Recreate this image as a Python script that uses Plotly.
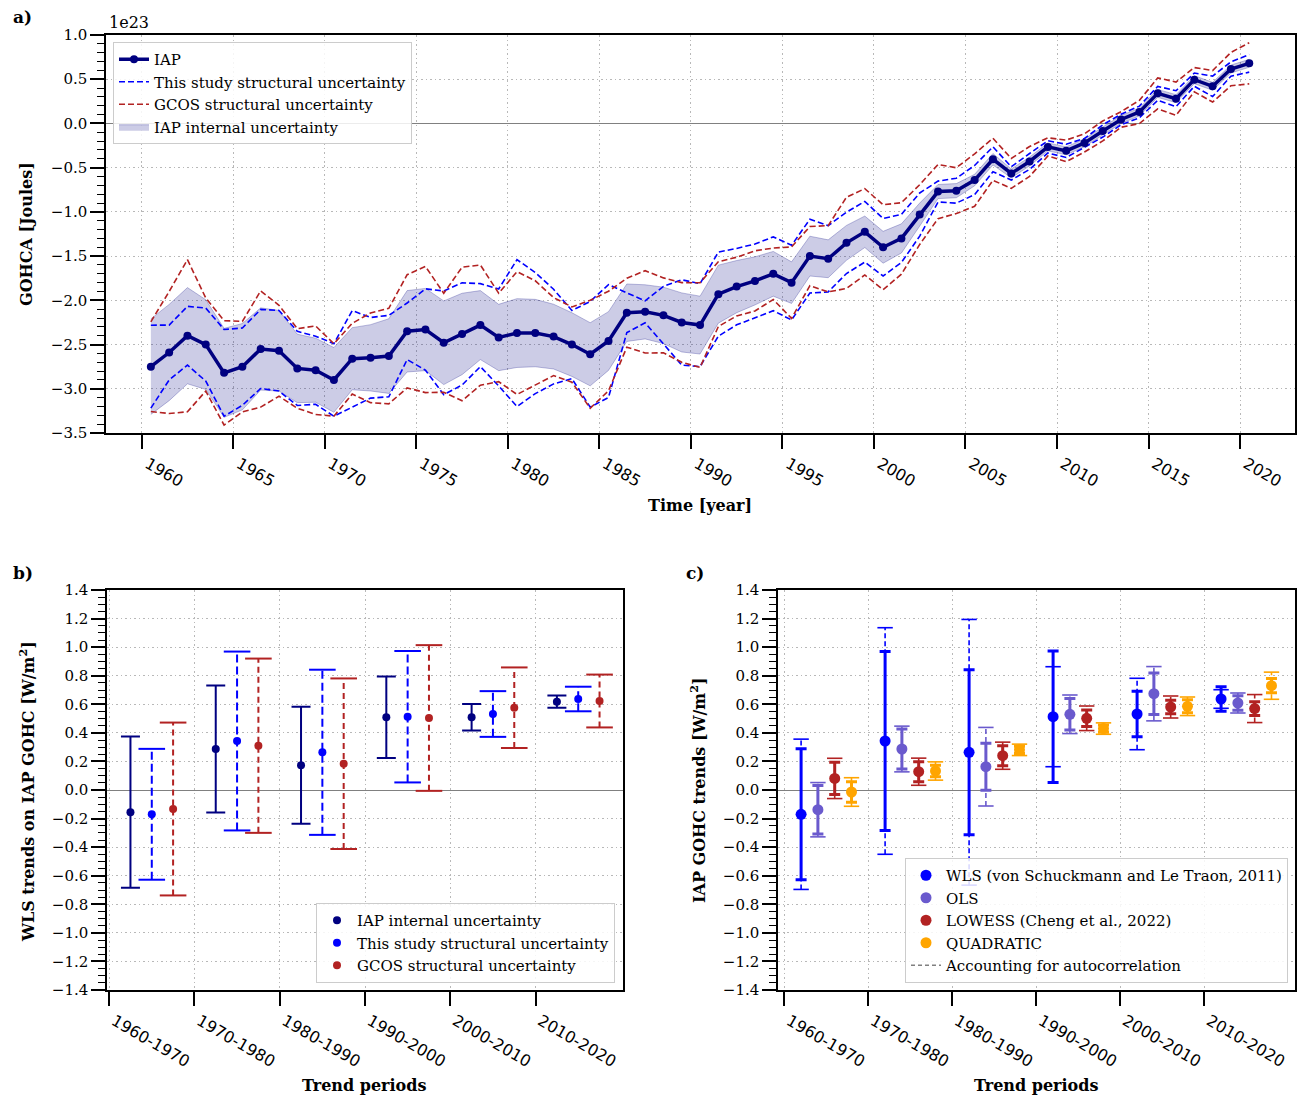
import plotly.graph_objects as go

W, H = 1304, 1096

# ---------------- data: panel a (GOHCA, units of 1e23 J) ----------------
years = [y + 0.5 for y in range(1960, 2021)]
iap = [-2.75, -2.59, -2.40, -2.50, -2.82, -2.75, -2.55, -2.57, -2.77, -2.79,
       -2.90, -2.66, -2.65, -2.63, -2.35, -2.33, -2.48, -2.38, -2.28, -2.42,
       -2.37, -2.37, -2.41, -2.50, -2.61, -2.46, -2.14, -2.13, -2.17, -2.25,
       -2.28, -1.93, -1.845, -1.78, -1.70, -1.80, -1.50, -1.53, -1.35, -1.225,
       -1.40, -1.30, -1.03, -0.77, -0.76, -0.64, -0.405, -0.565, -0.43, -0.265,
       -0.31, -0.22, -0.085, 0.045, 0.13, 0.34, 0.28, 0.495, 0.42, 0.615,
       0.68]
iap_internal_unc = [0.54, 0.544, 0.544, 0.507, 0.503, 0.488, 0.465, 0.456, 0.387, 0.362,
                    0.366, 0.351, 0.375, 0.422, 0.46, 0.465, 0.473, 0.46, 0.39, 0.375,
                    0.389, 0.381, 0.366, 0.36, 0.357, 0.332, 0.325, 0.306, 0.319, 0.334,
                    0.327, 0.328, 0.295, 0.272, 0.253, 0.235, 0.225, 0.214, 0.197, 0.178,
                    0.18, 0.165, 0.13, 0.08, 0.08, 0.065, 0.065, 0.05, 0.05, 0.045,
                    0.045, 0.045, 0.045, 0.045, 0.045, 0.045, 0.045, 0.045, 0.045, 0.045,
                    0.045]
study_struct_unc = [0.469, 0.31, 0.332, 0.413, 0.49, 0.437, 0.447, 0.456, 0.419, 0.385,
                    0.41, 0.544, 0.456, 0.46, 0.32, 0.46, 0.586, 0.578, 0.469, 0.548,
                    0.83, 0.685, 0.535, 0.385, 0.597, 0.638, 0.225, 0.124, 0.328, 0.482,
                    0.469, 0.475, 0.432, 0.417, 0.417, 0.422, 0.417, 0.375, 0.347, 0.343,
                    0.325, 0.272, 0.244, 0.118, 0.141, 0.165, 0.141, 0.075, 0.09, 0.069,
                    0.075, 0.05, 0.069, 0.06, 0.066, 0.079, 0.09, 0.075, 0.116, 0.081,
                    0.1]
gcos_struct_unc = [0.507, 0.69, 0.86, 0.526, 0.59, 0.512, 0.657, 0.514, 0.45, 0.50,
                   0.41, 0.40, 0.507, 0.54, 0.64, 0.713, 0.56, 0.755, 0.68, 0.50,
                   0.694, 0.591, 0.441, 0.426, 0.61, 0.563, 0.389, 0.465, 0.424, 0.45,
                   0.479, 0.366, 0.332, 0.34, 0.291, 0.404, 0.334, 0.375, 0.516, 0.488,
                   0.48, 0.404, 0.338, 0.306, 0.259, 0.297, 0.238, 0.169, 0.169, 0.103,
                   0.122, 0.103, 0.113, 0.088, 0.131, 0.175, 0.188, 0.137, 0.178, 0.188,
                   0.233]
year_ticks = [1960, 1965, 1970, 1975, 1980, 1985, 1990, 1995, 2000, 2005, 2010, 2015, 2020]
gohca_ticks = [-3.5, -3.0, -2.5, -2.0, -1.5, -1.0, -0.5, 0.0, 0.5, 1.0]

# ---------------- data: panel b (WLS trends, W/m2) ----------------
periods = ["1960-1970", "1970-1980", "1980-1990", "1990-2000", "2000-2010", "2010-2020"]
b_iap_trend = [-0.155, 0.287, 0.173, 0.509, 0.509, 0.618]
b_iap_err = [0.53, 0.445, 0.41, 0.285, 0.093, 0.043]
b_study_trend = [-0.17, 0.343, 0.264, 0.513, 0.532, 0.637]
b_study_err = [0.458, 0.626, 0.578, 0.46, 0.16, 0.086]
b_gcos_trend = [-0.133, 0.31, 0.184, 0.504, 0.576, 0.623]
b_gcos_err = [0.605, 0.61, 0.597, 0.51, 0.282, 0.185]

# ---------------- data: panel c (trend methods, W/m2) ----------------
wls_trend = [-0.17, 0.343, 0.264, 0.513, 0.532, 0.637]
wls_err = [0.458, 0.626, 0.578, 0.46, 0.16, 0.086]
wls_err_ac = [0.526, 0.793, 0.93, 0.35, 0.25, 0.065]
ols_trend = [-0.138, 0.287, 0.163, 0.53, 0.674, 0.609]
ols_err = [0.17, 0.14, 0.165, 0.11, 0.145, 0.05]
ols_err_ac = [0.19, 0.16, 0.275, 0.135, 0.19, 0.07]
lowess_trend = [0.081, 0.128, 0.24, 0.502, 0.581, 0.57]
lowess_err = [0.113, 0.07, 0.07, 0.058, 0.047, 0.048]
lowess_err_ac = [0.141, 0.095, 0.095, 0.086, 0.077, 0.098]
quad_trend = [-0.014, 0.133, 0.281, 0.43, 0.586, 0.73]
quad_err = [0.072, 0.04, 0.025, 0.025, 0.045, 0.05]
quad_err_ac = [0.1, 0.064, 0.04, 0.04, 0.065, 0.095]
trend_ticks = [round(k * 0.2, 1) for k in range(-7, 8)]

# ---------------- styles ----------------
SERIF = "DejaVu Serif"
SANS = "DejaVu Sans"
NAVY = "#000080"
BLUE = "#0000ff"
RED = "#b22222"
SLATE = "#6a5acd"
ORANGE = "#ffa500"


def fmt(v):
    s = "{:.1f}".format(v)
    if s == "-0.0":
        s = "0.0"
    return s.replace("-", "\u2212")


fig = go.Figure()

# ---------------- panel a ----------------
lo = [v - e for v, e in zip(iap, iap_internal_unc)]
hi = [v + e for v, e in zip(iap, iap_internal_unc)]
fig.add_trace(go.Scatter(x=years, y=lo, mode="lines", line=dict(color="rgba(0,0,128,0.25)", width=1),
                         showlegend=False, hoverinfo="skip", xaxis="x", yaxis="y"))
fig.add_trace(go.Scatter(x=years, y=hi, mode="lines", fill="tonexty", fillcolor="rgba(0,0,128,0.2)",
                         line=dict(color="rgba(0,0,128,0.25)", width=1),
                         name="IAP internal uncertainty", legend="legend", legendrank=4,
                         xaxis="x", yaxis="y"))
for unc, col, nm, rank in [(study_struct_unc, BLUE, "This study structural uncertainty", 2),
                           (gcos_struct_unc, RED, "GCOS structural uncertainty", 3)]:
    for k, sgn in enumerate((1, -1)):
        fig.add_trace(go.Scatter(x=years, y=[v + sgn * e for v, e in zip(iap, unc)], mode="lines",
                                 line=dict(color=col, width=1.6, dash="6px,3px"),
                                 name=nm, showlegend=(k == 0), legend="legend", legendrank=rank,
                                 xaxis="x", yaxis="y"))
fig.add_trace(go.Scatter(x=years, y=iap, mode="lines+markers", line=dict(color=NAVY, width=3.5),
                         marker=dict(color=NAVY, size=8), name="IAP", legend="legend", legendrank=1,
                         xaxis="x", yaxis="y"))


# ---------------- helpers for errorbars ----------------
def dashed_err(xa, ya, xs, ys, errs, color, lw, dash, cap):
    vx, vy = [], []
    for x, y, e in zip(xs, ys, errs):
        vx += [x, x, None]
        vy += [y - e, y + e, None]
    fig.add_trace(go.Scatter(x=vx, y=vy, mode="lines", line=dict(color=color, width=lw, dash=dash),
                             showlegend=False, hoverinfo="skip", xaxis=xa, yaxis=ya))
    cx, cy = [], []
    for x, y, e in zip(xs, ys, errs):
        cx += [x, x]
        cy += [y - e, y + e]
    fig.add_trace(go.Scatter(x=cx, y=cy, mode="markers",
                             marker=dict(symbol="line-ew", size=2 * cap, color=color,
                                         line=dict(color=color, width=lw)),
                             showlegend=False, hoverinfo="skip", xaxis=xa, yaxis=ya))


# ---------------- panel b ----------------
xb_iap = [i + 0.25 for i in range(len(periods))]
xb_study = [i + 0.5 for i in range(len(periods))]
xb_gcos = [i + 0.75 for i in range(len(periods))]

fig.add_trace(go.Scatter(x=xb_iap, y=b_iap_trend, mode="markers", marker=dict(color=NAVY, size=8),
                         error_y=dict(type="data", array=b_iap_err, color=NAVY, thickness=2, width=9.5),
                         name="IAP internal uncertainty", legend="legend2", xaxis="x2", yaxis="y2"))
dashed_err("x2", "y2", xb_study, b_study_trend, b_study_err, BLUE, 2, "8px,4px", 9.5)
fig.add_trace(go.Scatter(x=xb_study, y=b_study_trend, mode="markers", marker=dict(color=BLUE, size=8),
                         name="This study structural uncertainty", legend="legend2", xaxis="x2", yaxis="y2"))
dashed_err("x2", "y2", xb_gcos, b_gcos_trend, b_gcos_err, RED, 2, "6px,4px", 9.5)
fig.add_trace(go.Scatter(x=xb_gcos, y=b_gcos_trend, mode="markers", marker=dict(color=RED, size=8),
                         name="GCOS structural uncertainty", legend="legend2", xaxis="x2", yaxis="y2"))

# ---------------- panel c ----------------
methods = [
    ("WLS (von Schuckmann and Le Traon, 2011)", BLUE, 0.2, wls_trend, wls_err, wls_err_ac),
    ("OLS", SLATE, 0.4, ols_trend, ols_err, ols_err_ac),
    ("LOWESS (Cheng et al., 2022)", RED, 0.6, lowess_trend, lowess_err, lowess_err_ac),
    ("QUADRATIC", ORANGE, 0.8, quad_trend, quad_err, quad_err_ac),
]
for nm, col, off, tr, er, erac in methods:
    xs = [i + off for i in range(len(periods))]
    dashed_err("x3", "y3", xs, tr, erac, col, 1.6, "5px,3px", 5.5)
    fig.add_trace(go.Scatter(x=xs, y=tr, mode="markers", marker=dict(color=col, size=11),
                             error_y=dict(type="data", array=er, color=col, thickness=3, width=5.5),
                             name=nm, legend="legend3", xaxis="x3", yaxis="y3"))
fig.add_trace(go.Scatter(x=[None], y=[None], mode="lines", line=dict(color="gray", width=1.6, dash="4px,3px"),
                         name="Accounting for autocorrelation", legend="legend3", xaxis="x3", yaxis="y3"))

# ---------------- axes ----------------
common = dict(showline=True, linecolor="black", linewidth=1.5, mirror=True, ticks="outside",
              ticklen=14, tickwidth=1.5, tickcolor="black", showgrid=True, gridcolor="#b8b8b8",
              griddash="1.5px,3px", gridwidth=1, zeroline=False, automargin=False)
xtickfont = dict(family=SANS, size=16, color="black")
ytickfont = dict(family=SERIF, size=15, color="black")
leg_common = dict(bgcolor="rgba(255,255,255,0.85)", bordercolor="#cccccc", borderwidth=1,
                  font=dict(family=SERIF, size=15, color="black"), traceorder="normal")

fig.update_layout(
    template="none",
    width=W, height=H, margin=dict(l=0, r=0, t=0, b=0, autoexpand=False),
    paper_bgcolor="white", plot_bgcolor="white",
    font=dict(family=SERIF, size=15, color="black"),
    xaxis=dict(common, domain=[106 / W, 1295 / W], anchor="y", range=[1958.05, 2023.0],
               tickmode="array", tickvals=year_ticks, ticktext=[str(t) for t in year_ticks],
               tickangle=30, tickfont=xtickfont, ticklabelshift=6),
    yaxis=dict(common, domain=[1 - 433 / H, 1 - 35 / H], anchor="x", range=[-3.5, 1.0],
               tickmode="array", tickvals=gohca_ticks, ticktext=[fmt(t) for t in gohca_ticks],
               tickfont=ytickfont, zeroline=True, zerolinecolor="#808080", zerolinewidth=1,
               minor=dict(tickmode="linear", tick0=0, dtick=0.1, ticks="outside", ticklen=7,
                          tickwidth=1, tickcolor="black", showgrid=False)),
    xaxis2=dict(common, domain=[107 / W, 623 / W], anchor="y2", range=[-0.025, 6.025],
                tickmode="array", tickvals=list(range(len(periods))), ticktext=periods,
                tickangle=30, tickfont=xtickfont, ticklabelshift=5),
    yaxis2=dict(common, domain=[1 - 990 / H, 1 - 590 / H], anchor="x2", range=[-1.4, 1.4],
                tickmode="array", tickvals=trend_ticks, ticktext=[fmt(t) for t in trend_ticks],
                tickfont=ytickfont, zeroline=True, zerolinecolor="#808080", zerolinewidth=1,
                minor=dict(tickmode="linear", tick0=0, dtick=0.05, ticks="outside", ticklen=7,
                           tickwidth=1, tickcolor="black", showgrid=False)),
    xaxis3=dict(common, domain=[778 / W, 1295 / W], anchor="y3", range=[-0.075, 6.08],
                tickmode="array", tickvals=list(range(len(periods))), ticktext=periods,
                tickangle=30, tickfont=xtickfont, ticklabelshift=5),
    yaxis3=dict(common, domain=[1 - 990 / H, 1 - 590 / H], anchor="x3", range=[-1.4, 1.4],
                tickmode="array", tickvals=trend_ticks, ticktext=[fmt(t) for t in trend_ticks],
                tickfont=ytickfont, zeroline=True, zerolinecolor="#808080", zerolinewidth=1,
                minor=dict(tickmode="linear", tick0=0, dtick=0.05, ticks="outside", ticklen=7,
                           tickwidth=1, tickcolor="black", showgrid=False)),
    legend=dict(leg_common, x=113 / W, y=1 - 42 / H, xanchor="left", yanchor="top"),
    legend2=dict(leg_common, x=615 / W, y=1 - 983 / H, xanchor="right", yanchor="bottom"),
    legend3=dict(leg_common, x=1288 / W, y=1 - 983 / H, xanchor="right", yanchor="bottom"),
)


def ann(text, xp, yp, size=16, angle=0, xanchor="center", bold=True):
    fig.add_annotation(text=("<b>%s</b>" % text) if bold else text, x=xp / W, y=1 - yp / H,
                       xref="paper", yref="paper", showarrow=False, textangle=angle,
                       xanchor=xanchor, yanchor="middle",
                       font=dict(family=SERIF, size=size, color="black"))


ann("a)", 11, 17, size=17, xanchor="left")
ann("b)", 11, 573, size=17, xanchor="left")
ann("c)", 684, 573, size=17, xanchor="left")
ann("1e23", 107, 22, size=16, xanchor="left", bold=False)
ann("GOHCA [Joules]", 27, 234, angle=-90)
ann("Time [year]", 700, 505)
ann("WLS trends on IAP GOHC [W/m<sup>2</sup>]", 27, 792, angle=-90)
ann("Trend periods", 364, 1085)
ann("IAP GOHC trends [W/m<sup>2</sup>]", 698, 790, angle=-90)
ann("Trend periods", 1036, 1085)

fig.write_html("out.html", config={"displayModeBar": False},
               post_script="document.body.style.margin='0px';"
                           "document.body.style.padding='0px';"
                           "document.documentElement.style.overflow='hidden';")
